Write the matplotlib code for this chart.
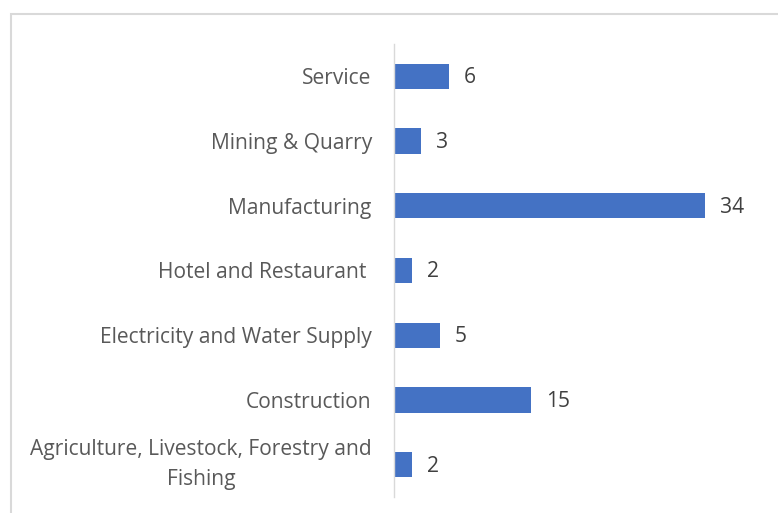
import matplotlib.pyplot as plt
from matplotlib.patches import Rectangle

plt.rcParams['font.family'] = ['Open Sans', 'DejaVu Sans']

# data, listed bottom to top as drawn on the axis
sectors = ['Agriculture, Livestock, Forestry and\nFishing',
           'Construction',
           'Electricity and Water Supply',
           'Hotel and Restaurant ',
           'Manufacturing',
           'Mining & Quarry',
           'Service']
counts = [2, 15, 5, 2, 34, 3, 6]

fig = plt.figure(figsize=(7.78, 5.13), dpi=100)

# light grey chart frame (runs off the right and bottom edges)
frame = Rectangle((11 / 778, -0.05), 1.2, 1 - 14 / 513 + 0.05,
                  transform=fig.transFigure, fill=False,
                  edgecolor='#d9d9d9', linewidth=1.5)
fig.patches.append(frame)

ax = fig.add_axes([394 / 778, 1 - 497 / 513, (760 - 394) / 778, (497 - 44) / 513])

bars = ax.barh(range(len(sectors)), counts, height=0.39, color='#4472c4')

ax.set_xlim(0, 40)
ax.set_ylim(-0.5, len(sectors) - 0.5)

ax.set_yticks(range(len(sectors)))
labels = ax.set_yticklabels(sectors, fontsize=15.1, color='#595959',
                            multialignment='center', linespacing=1.55)
# two-line label: centre the whole block on the bar
labels[0].set_verticalalignment('center')
ax.set_xticks([])
ax.tick_params(axis='y', length=0, pad=16)

for s in ['top', 'right', 'bottom']:
    ax.spines[s].set_visible(False)
ax.spines['left'].set_color('#d9d9d9')
ax.spines['left'].set_linewidth(1.0)

# value labels next to bars
for bar, v in zip(bars, counts):
    ax.annotate(str(v), (bar.get_width(), bar.get_y() + bar.get_height() / 2),
                xytext=(10.5, -1), textcoords='offset points',
                ha='left', va='center', fontsize=15.1, color='#404040')

fig.savefig('out.png', dpi=100)
